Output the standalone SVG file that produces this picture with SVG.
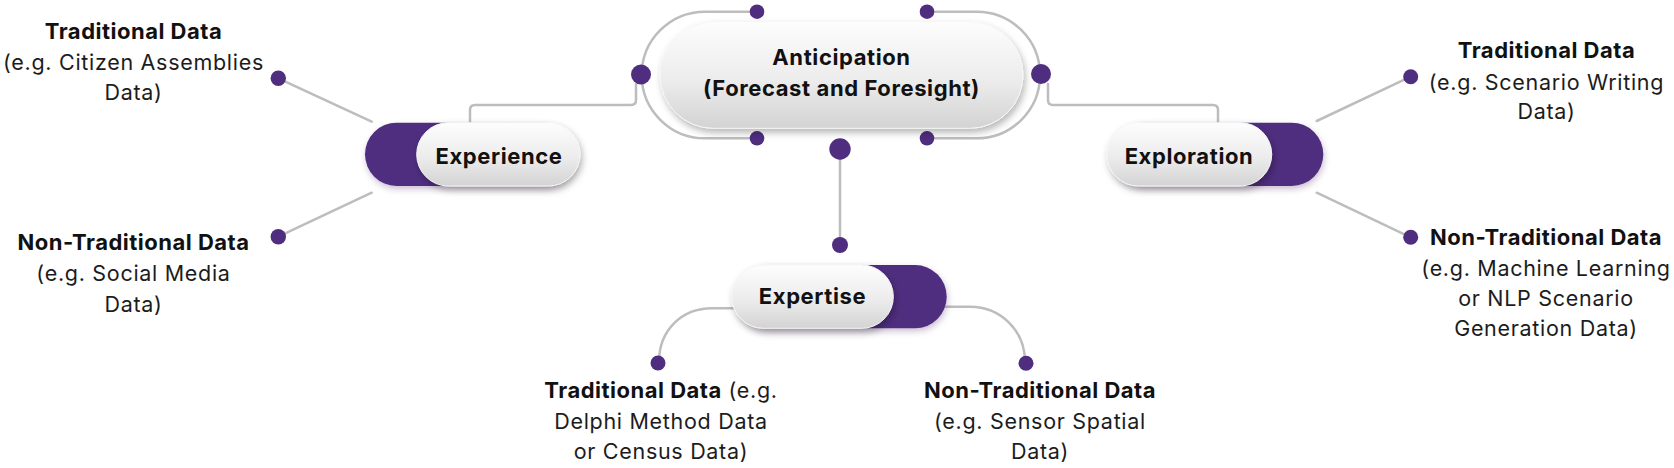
<svg xmlns="http://www.w3.org/2000/svg" width="1674" height="468" viewBox="0 0 1674 468">
<defs>
<linearGradient id="pillGrad" x1="0" y1="0" x2="0" y2="1">
<stop offset="0" stop-color="#fdfdfd"/>
<stop offset="0.55" stop-color="#ececec"/>
<stop offset="1" stop-color="#d3d3d3"/>
</linearGradient>
<filter id="shadow" x="-20%" y="-40%" width="140%" height="190%">
<feDropShadow dx="2" dy="4" stdDeviation="3.5" flood-color="#000" flood-opacity="0.28"/>
</filter>
<filter id="shadowP" x="-20%" y="-40%" width="140%" height="190%">
<feDropShadow dx="1" dy="3" stdDeviation="3" flood-color="#2a1050" flood-opacity="0.25"/>
</filter>
</defs>
<style>
.line{fill:none;stroke:#bdbdbd;stroke-width:2.5;stroke-linecap:round;stroke-linejoin:round}
.dot{fill:#4f2d7f}
.purple{fill:#4f2d7f}
.pill{fill:url(#pillGrad);stroke:#f6f6f6;stroke-width:1}
.t{font-family:Inter,"Noto Sans",sans-serif;text-anchor:middle;fill:#1c1c1c}
.b{font-weight:700;font-size:22px;letter-spacing:0.5px;fill:#111}
.r{font-weight:400;font-size:21.5px;letter-spacing:0.7px}
.pl{font-family:Inter,"Noto Sans",sans-serif;text-anchor:middle;font-weight:700;font-size:22px;letter-spacing:0.6px;fill:#111}
</style>

<g id="connectors">
<path class="line" d="M757,11.7 H705 A63.3,63.3 0 0 0 705,138.3 H757"/>
<path class="line" d="M927,11.7 H976.7 A63.3,63.3 0 0 1 976.7,138.3 H927"/>
<path class="line" d="M636,84 V100 Q636,105 631,105 H475 Q470,105 470,110 V123"/>
<path class="line" d="M1048,84 V100 Q1048,105 1053,105 H1213 Q1218,105 1218,110 V123"/>
<path class="line" d="M840,150 V245"/>
<path class="line" d="M371.7,121.7 L278.3,78.3"/>
<path class="line" d="M371.7,192.7 L278.3,236.7"/>
<path class="line" d="M1316.7,121 L1410.7,76.7"/>
<path class="line" d="M1316.7,192.7 L1410.7,237.3"/>
<path class="line" d="M733,308.3 H712 C682,308.3 659,330 659,362"/>
<path class="line" d="M946,306.7 H970 C1000,306.7 1025,330 1025,362"/>
<circle class="dot" cx="757" cy="11.7" r="7.3"/>
<circle class="dot" cx="927" cy="11.7" r="7.3"/>
<circle class="dot" cx="757" cy="138.3" r="7.3"/>
<circle class="dot" cx="927" cy="138.3" r="7.3"/>
<circle class="dot" cx="641" cy="74.5" r="10"/>
<circle class="dot" cx="1041" cy="74" r="10"/>
<circle class="dot" cx="840" cy="149" r="10.7"/>
<circle class="dot" cx="840" cy="245" r="8"/>
<circle class="dot" cx="278.3" cy="78.3" r="7.7"/>
<circle class="dot" cx="278.3" cy="236.7" r="7.7"/>
<circle class="dot" cx="1410.7" cy="76.7" r="7.5"/>
<circle class="dot" cx="1410.7" cy="237.3" r="7.5"/>
<circle class="dot" cx="658" cy="363" r="7.5"/>
<circle class="dot" cx="1026" cy="363.3" r="7.5"/>
</g>

<g id="node-anticipation">
<rect class="pill" x="660" y="21.7" width="363" height="106.6" rx="53.3" filter="url(#shadow)"/>
<text class="pl" x="841.5" y="65">Anticipation</text>
<text class="pl" x="841.5" y="96">(Forecast and Foresight)</text>
</g>

<g id="node-experience">
<rect class="purple" x="365" y="122.7" width="210" height="63.3" rx="31.65" filter="url(#shadowP)"/>
<rect class="pill" x="416.7" y="122.7" width="163.3" height="63.3" rx="31.65" filter="url(#shadow)"/>
<text class="pl" x="499" y="163.5">Experience</text>
</g>

<g id="node-exploration">
<rect class="purple" x="1112" y="122.7" width="211.3" height="63.3" rx="31.65" filter="url(#shadowP)"/>
<rect class="pill" x="1106.7" y="122.7" width="165" height="63.3" rx="31.65" filter="url(#shadow)"/>
<text class="pl" x="1189" y="163.5">Exploration</text>
</g>

<g id="node-expertise">
<rect class="purple" x="736" y="265" width="210.7" height="63.3" rx="31.65" filter="url(#shadowP)"/>
<rect class="pill" x="731.7" y="265" width="161.6" height="63.3" rx="31.65" filter="url(#shadow)"/>
<text class="pl" x="812.5" y="304">Expertise</text>
</g>

<g id="label-experience-traditional">
<text class="t b" x="133.5" y="39.3">Traditional Data</text>
<text class="t r" x="133.5" y="70">(e.g. Citizen Assemblies</text>
<text class="t r" x="133.5" y="100">Data)</text>
</g>
<g id="label-experience-nontraditional">
<text class="t b" x="133.5" y="250">Non-Traditional Data</text>
<text class="t r" x="133.5" y="281">(e.g. Social Media</text>
<text class="t r" x="133.5" y="311.5">Data)</text>
</g>
<g id="label-exploration-traditional">
<text class="t b" x="1546.5" y="58.3">Traditional Data</text>
<text class="t r" x="1546.5" y="89.5">(e.g. Scenario Writing</text>
<text class="t r" x="1546.5" y="119.3">Data)</text>
</g>
<g id="label-exploration-nontraditional">
<text class="t b" x="1546" y="245">Non-Traditional Data</text>
<text class="t r" x="1546" y="275.5">(e.g. Machine Learning</text>
<text class="t r" x="1546" y="305.5">or NLP Scenario</text>
<text class="t r" x="1546" y="335.5">Generation Data)</text>
</g>
<g id="label-expertise-traditional">
<text class="t r" x="661" y="398.3"><tspan class="b">Traditional Data</tspan> (e.g.</text>
<text class="t r" x="661" y="429">Delphi Method Data</text>
<text class="t r" x="661" y="458.5">or Census Data)</text>
</g>
<g id="label-expertise-nontraditional">
<text class="t b" x="1040" y="398.3">Non-Traditional Data</text>
<text class="t r" x="1040" y="428.5">(e.g. Sensor Spatial</text>
<text class="t r" x="1040" y="458.5">Data)</text>
</g>
</svg>
